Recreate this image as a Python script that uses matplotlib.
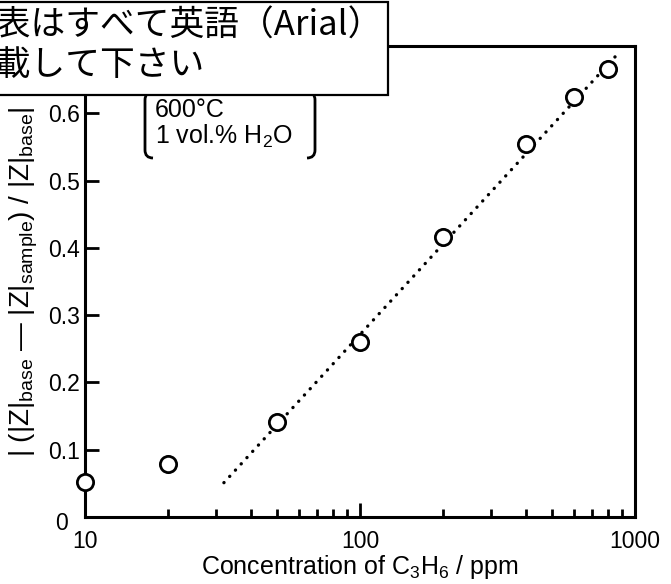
"""Sensor response vs C3H6 concentration (log x)."""

import matplotlib

matplotlib.use("Agg")
import matplotlib.pyplot as plt
import matplotlib.transforms as mtransforms
from matplotlib.path import Path
from matplotlib.patches import PathPatch, Rectangle
from matplotlib.ticker import FixedLocator, NullFormatter

plt.rcParams["font.family"] = ["Liberation Sans", "DejaVu Sans"]
plt.rcParams["mathtext.fontset"] = "custom"
plt.rcParams["mathtext.rm"] = "Liberation Sans"
plt.rcParams["mathtext.it"] = "Liberation Sans"

# data
conc_ppm = [10, 20, 50, 100, 200, 400, 600, 800]
response = [0.052, 0.079, 0.141, 0.260, 0.416, 0.554, 0.624, 0.666]

# dotted guide line (end points)
fit_ppm = [32, 860]
fit_resp = [0.051, 0.687]

# 0.7 sits under the note box in the original, so it is not labelled
y_ticks = [0, 0.1, 0.2, 0.3, 0.4, 0.5, 0.6]
y_labels = ["0", "0.1", "0.2", "0.3", "0.4", "0.5", "0.6"]
x_ticks = [10, 100, 1000]
x_labels = ["10", "100", "1000"]

note_lines = ["図表はすべて英語（Arial）", "記載して下さい"]
cond_lines = ["600°C", r"1 vol.% H$_{\mathrm{2}}$O"]

W, H = 671, 584
fig = plt.figure(figsize=(W / 100, H / 100), dpi=100)
ax = fig.add_axes([85 / W, 1 - 517 / H, 550 / W, 471 / H])

ax.plot(fit_ppm, fit_resp, color="black", lw=2.4,
        linestyle=(0, (0.05, 2.5)), dash_capstyle="round", zorder=2)
ax.plot(conc_ppm, response, "o", ms=11.7, mfc="white", mec="black",
        mew=2.0, clip_on=False, zorder=5)

ax.set_xscale("log")
ax.set_xlim(10, 1000)
ax.set_ylim(0, 0.7)

ax.set_xticks(x_ticks, x_labels)
minor = [m * d for d in (10, 100) for m in range(2, 10)]
ax.xaxis.set_minor_locator(FixedLocator(minor))
ax.xaxis.set_minor_formatter(NullFormatter())
ax.set_yticks(y_ticks, y_labels)

ax.tick_params(axis="both", which="major", direction="in", length=10,
               width=2.0, labelsize=16.5, color="black")
ax.tick_params(axis="x", which="minor", direction="in", length=6, width=2.0)
ax.tick_params(axis="x", which="major", pad=9.5)
ax.tick_params(axis="y", which="major", pad=3.5)
for s in ax.spines.values():
    s.set_linewidth(2.2)

# the "0" label sits lower and further left in the original
zero = ax.get_yticklabels()[0]
zero.set_transform(zero.get_transform()
                   + mtransforms.ScaledTranslation(-0.12, -0.04, fig.dpi_scale_trans))

ax.set_xlabel(r"Concentration of C$_{\mathrm{3}}$H$_{\mathrm{6}}$ / ppm",
              fontsize=18, labelpad=0)
ax.set_ylabel(r"| (|Z|$_{\mathrm{base}}$ — |Z|$_{\mathrm{sample}}$) / |Z|$_{\mathrm{base}}$|",
              fontsize=20, labelpad=6)

# conditions with bracket marks
for i, line in enumerate(cond_lines):
    fig.text(155 / W, 1 - (110 + 26 * i) / H, line, fontsize=18,
             va="center", ha="left")


def bracket(x, y0, y1, r, side):
    d = 1 if side == "left" else -1
    verts = [(x + d * r, y0), (x, y0), (x, y0 + r), (x, y1 - r), (x, y1),
             (x + d * r, y1)]
    codes = [Path.MOVETO, Path.CURVE3, Path.CURVE3, Path.LINETO, Path.CURVE3,
             Path.CURVE3]
    verts = [(vx / W, 1 - vy / H) for vx, vy in verts]
    fig.add_artist(PathPatch(Path(verts, codes), fill=False, lw=2.0,
                             color="black", transform=fig.transFigure))


bracket(145, 92, 158, 8, "left")
bracket(315, 92, 158, 8, "right")

# note box partly off the left edge
fig.add_artist(Rectangle((-10 / W, 1 - 95 / H), 398 / W, 93 / H,
                         transform=fig.transFigure, fc="white", ec="black",
                         lw=1.6, zorder=9))
for i, line in enumerate(note_lines):
    fig.text(-38 / W, 1 - (26 + 39 * i) / H, line,
             family=["Noto Sans CJK JP", "DejaVu Sans"], fontsize=25,
             va="center", ha="left", zorder=10)

fig.savefig("out.png", dpi=100)
